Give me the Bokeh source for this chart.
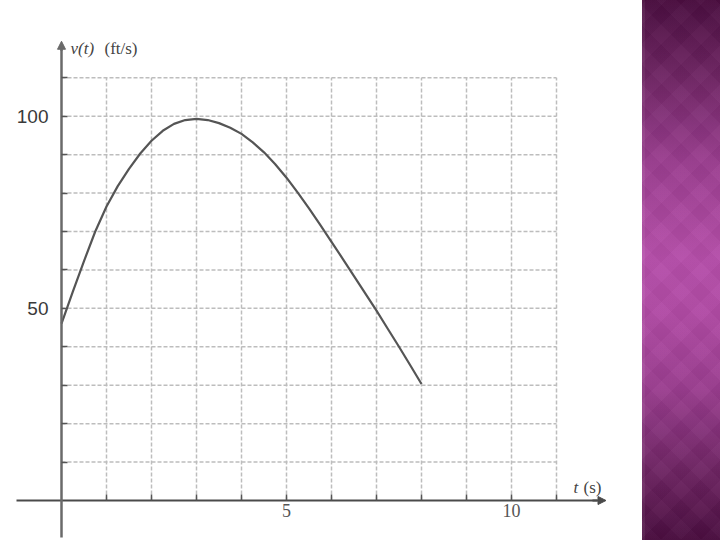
from bokeh.plotting import figure
from bokeh.models import FixedTicker, Arrow, NormalHead, Label, Div
from bokeh.layouts import row
from bokeh.embed import file_html
from bokeh.resources import INLINE

# ---- data ----
t_vals = [0, 0.25, 0.5, 0.75, 1.0, 1.25, 1.5, 1.75, 2.0, 2.25, 2.5, 2.75, 3.0,
          3.25, 3.5, 3.75, 4.0, 4.25, 4.5, 4.75, 5.0, 5.25, 5.5, 5.75, 6.0,
          6.25, 6.5, 6.75, 7.0, 7.25, 7.5, 7.75, 8.0]
v_vals = [46, 54.3, 62.3, 70, 76.5, 81.8, 86.3, 90.3, 93.6, 96.2, 98, 99, 99.3,
          99.0, 98.2, 97.0, 95.4, 93.2, 90.6, 87.5, 84.0, 80.1, 76.0, 71.7, 67.3,
          62.9, 58.4, 53.9, 49.4, 44.7, 40.0, 35.2, 30.3]

grid_t = [1, 2, 3, 4, 5, 6, 7, 8, 9, 10, 11]
grid_v = [10, 20, 30, 40, 50, 60, 70, 80, 90, 100, 110]

x_ticks = [1, 2, 3, 4, 5, 6, 7, 8, 9, 10, 11]
x_tick_labels = {5: "5", 10: "10"}
y_ticks = [10, 20, 30, 40, 50, 60, 70, 80, 90, 100, 110]
y_tick_labels = {50: "50", 100: "100"}

# ---- geometry ----
W, H = 642, 540
X0, XS = 61.0, 45.0      # canvas px of t=0, px per unit
Y0, YS = 500.0, 3.843    # canvas px of v=0, px per unit

p = figure(width=W, height=H,
           x_range=(-X0 / XS, (W - X0) / XS),
           y_range=(-(H - Y0) / YS, Y0 / YS),
           output_backend="svg", toolbar_location=None, min_border=0)
p.outline_line_color = None
p.xgrid.visible = False
p.ygrid.visible = False
p.background_fill_color = "white"
p.border_fill_color = "white"

grid_col = "#bdbdbd"
p.segment(x0=grid_t, y0=0, x1=grid_t, y1=max(grid_v), line_color=grid_col,
          line_width=1.5, line_dash="4 2")
p.segment(x0=0, y0=grid_v, x1=max(grid_t), y1=grid_v, line_color=grid_col,
          line_width=1.5, line_dash="4 2")

p.line(t_vals, v_vals, line_color="#555555", line_width=2.2, line_join="round")

axis_col = "#555555"
xa = p.xaxis[0]
xa.fixed_location = 0
xa.ticker = FixedTicker(ticks=x_ticks, minor_ticks=[])
xa.major_label_overrides = {k: x_tick_labels.get(k, "") for k in x_ticks}
xa.bounds = (-1.0, 11.9)
xa.axis_line_color = "#4a4a4a"
xa.axis_line_width = 2
xa.major_tick_in = 6
xa.major_tick_out = 0
xa.major_tick_line_color = axis_col
xa.major_tick_line_width = 1.5
xa.minor_tick_line_color = None
xa.major_label_text_font = "Liberation Serif"
xa.major_label_text_font_size = "18px"
xa.major_label_text_color = "#555555"
xa.major_label_standoff = 3

ya = p.yaxis[0]
ya.fixed_location = 0
ya.ticker = FixedTicker(ticks=y_ticks, minor_ticks=[])
ya.major_label_overrides = {k: y_tick_labels.get(k, "") for k in y_ticks}
ya.bounds = (-9.6, 117.5)
ya.axis_line_color = "#6a6a6a"
ya.axis_line_width = 2.5
ya.major_tick_in = 6
ya.major_tick_out = 0
ya.major_tick_line_color = axis_col
ya.major_tick_line_width = 1.5
ya.minor_tick_line_color = None
ya.major_label_text_font = "Liberation Sans"
ya.major_label_text_font_size = "19px"
ya.major_label_text_color = "#3a3a3a"
ya.major_label_standoff = 13

p.add_layout(Arrow(end=NormalHead(size=8, fill_color="#4a4a4a", line_color="#4a4a4a"),
                   x_start=11.8, y_start=0, x_end=12.1, y_end=0,
                   line_color="#4a4a4a", line_width=2))
p.add_layout(Arrow(end=NormalHead(size=8, fill_color="#6a6a6a", line_color="#6a6a6a"),
                   x_start=0, y_start=117, x_end=0, y_end=119.5,
                   line_color="#6a6a6a", line_width=2.5))

lab = dict(text_font="Liberation Serif", text_font_size="17px", text_color="#444444",
           text_baseline="middle", text_align="left")
p.add_layout(Label(x=0.2, y=117.6, text="v(t)", text_font_style="italic", **lab))
p.add_layout(Label(x=0.955, y=117.6, text="(ft/s)", **lab))
p.add_layout(Label(x=11.38, y=3.4, text="t", text_font_style="italic", **lab))
p.add_layout(Label(x=11.6, y=3.4, text="(s)", **lab))

strip = Div(text="", width=720 - W, height=H, styles={
    "background": (
        "linear-gradient(to right, rgba(255,255,255,0.06) 0px, rgba(255,255,255,0.06) 3px, rgba(0,0,0,0) 3px),"
        "repeating-linear-gradient(45deg, rgba(255,255,255,0.018) 0px, rgba(255,255,255,0.018) 14px, rgba(0,0,0,0.018) 14px, rgba(0,0,0,0.018) 28px),"
        "repeating-linear-gradient(-45deg, rgba(255,255,255,0.018) 0px, rgba(255,255,255,0.018) 14px, rgba(0,0,0,0.018) 14px, rgba(0,0,0,0.018) 28px),"
        "linear-gradient(to bottom, #4a0d3f 0%, #6e2563 14%, #9a3d8f 30%, #b54ea9 48%, #b04aa4 58%, #9a3d8f 72%, #6e2563 87%, #4a0d3f 100%)"
    ),
    "margin": "0", "padding": "0",
})

layout = row(p, strip, spacing=0)
open("out.html", "w").write(file_html(layout, INLINE))
